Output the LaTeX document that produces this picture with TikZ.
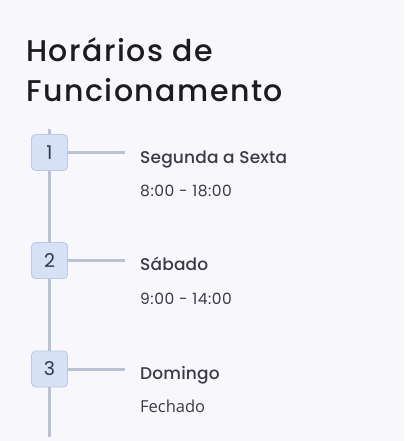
\documentclass[tikz,border=0pt]{standalone}
\usepackage{fontspec}
\setmainfont{Poppins}
\newfontfamily\medfont{Poppins Medium}
\newfontfamily\altfont{Open Sans}
\definecolor{bgc}{HTML}{F8F8FC}
\definecolor{linec}{HTML}{BAC3D4}
\definecolor{boxfill}{HTML}{D7E1F6}
\definecolor{boxdraw}{HTML}{BACAE6}
\definecolor{titlec}{HTML}{1B1B20}
\definecolor{labc}{HTML}{3A3A44}
\definecolor{numc}{HTML}{2E3650}
\tikzset{
  numbox/.style={draw=boxdraw, fill=boxfill, line width=0.8pt, rounded corners=4pt,
    minimum width=36pt, minimum height=36pt, inner sep=0pt,
    font=\fontsize{19}{19}\selectfont, text=numc},
  conn/.style={draw=linec, line width=3pt},
  daylab/.style={anchor=base west, inner sep=0pt, font=\medfont\fontsize{17}{17}\selectfont\addfontfeature{LetterSpace=1}, text=labc},
  timelab/.style={anchor=base west, inner sep=0pt, font=\fontsize{15.5}{15.5}\selectfont\addfontfeature{LetterSpace=3.5}, text=labc},
  titlelab/.style={anchor=base west, inner sep=0pt, font=\medfont\fontsize{30}{30}\selectfont\addfontfeature{LetterSpace=5}, text=titlec}
}
\begin{document}
\begin{tikzpicture}[x=1pt,y=-1pt]
\useasboundingbox[fill=bgc] (0,0) rectangle (404,441);
\node[titlelab] (t1) at (26,62) {Horários de};
\node[titlelab] (t2) at (26,102) {Funcionamento};
\coordinate (top) at (49.5,129);
\coordinate (bot) at (49.5,437);
\draw[conn] (top) -- (bot);
\coordinate (e1) at (125,152.5);
\coordinate (e2) at (125,260.5);
\coordinate (e3) at (125,369);
\node[numbox] (b1) at (49.5,152.5) {1};
\node[numbox] (b2) at (49.5,260.5) {2};
\node[numbox] (b3) at (49.5,369) {3};
\draw[conn] (b1.east) -- (e1);
\draw[conn] (b2.east) -- (e2);
\draw[conn] (b3.east) -- (e3);
\node[daylab] (d1) at (140,163) {Segunda a Sexta};
\node[timelab] (h1) at (140,196.5) {8:00 - 18:00};
\node[daylab] (d2) at (140,270.7) {Sábado};
\node[timelab] (h2) at (140,304) {9:00 - 14:00};
\node[daylab] (d3) at (140,379.3) {Domingo};
\node[timelab, font=\altfont\fontsize{16.5}{16.5}\selectfont] (h3) at (140,412.3) {Fechado};
\end{tikzpicture}
\end{document}
